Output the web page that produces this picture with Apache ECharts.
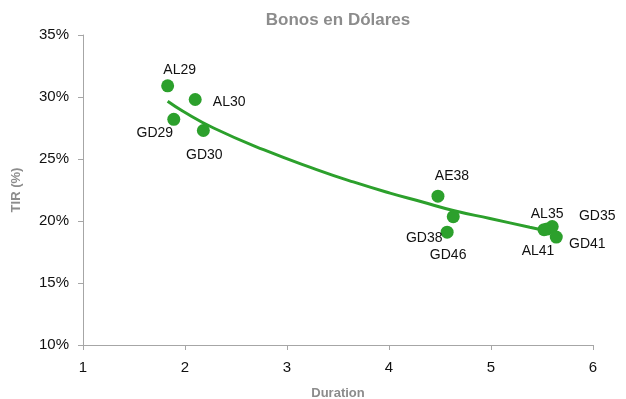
<!DOCTYPE html>
<html>
<head>
<meta charset="utf-8">
<script src="https://cdn.jsdelivr.net/npm/echarts@6/dist/echarts.min.js"></script>
<style>
  html, body { margin: 0; padding: 0; background: #fff; }
  #chart { width: 626px; height: 399px; }
</style>
</head>
<body>
<div id="chart"></div>
<script>
// Bond names, modified duration (years) and yield (TIR, %)
const bonds     = ['AL29', 'AL30', 'GD29', 'GD30', 'AE38', 'GD38', 'GD46', 'AL35', 'GD35', 'AL41', 'GD41'];
const durations = [1.83, 2.10, 1.89, 2.18, 4.48, 4.63, 4.57, 5.55, 5.60, 5.52, 5.64];
const yields    = [30.9, 29.8, 28.2, 27.3, 22.0, 20.35, 19.1, 19.35, 19.55, 19.3, 18.7];

// Trend curve sampled along duration
const trendX = [1.83, 1.98, 2.28, 2.77, 3.29, 3.65, 4.01, 4.32, 4.63, 4.99, 5.38, 5.55];
const trendY = [29.65, 28.85, 27.5, 25.75, 24.15, 23.15, 22.25, 21.55, 20.85, 20.2, 19.5, 19.2];

// Axis ticks
const xTicks = { min: 1, max: 6, step: 1 };
const yTicks = { min: 10, max: 35, step: 5 };

// Label placement around each point (pixel offsets from the marker centre)
const labelOffsets = {
  AL29: [12, -16], AL30: [34, 3], GD29: [-19, 14], GD30: [1, 25],
  AE38: [14, -20], GD38: [-29, 21], GD46: [1, 23], AL35: [0, -15],
  GD35: [45, -10], AL41: [-6, 21], GD41: [31, 7]
};

const green = '#2ca02c';
const font = 'Liberation Sans, Arial, sans-serif';

const scatterData = bonds.map((name, i) => ({
  name: name,
  value: [durations[i], yields[i]],
  label: { offset: labelOffsets[name] }
}));

const chart = echarts.init(document.getElementById('chart'), null, { renderer: 'canvas' });
chart.setOption({
  animation: false,
  title: {
    text: 'Bonos en Dólares',
    left: 333,
    textAlign: 'center',
    top: 7,
    textStyle: { fontFamily: font, fontSize: 17, fontWeight: 'bold', color: '#8c8c8c' }
  },
  grid: { left: 83, right: 33, top: 35, bottom: 54, containLabel: false, outerBoundsMode: 'none' },
  xAxis: {
    type: 'value',
    min: xTicks.min, max: xTicks.max, interval: xTicks.step,
    name: 'Duration',
    nameLocation: 'middle',
    nameGap: 42,
    nameTextStyle: { fontFamily: font, fontSize: 13, fontWeight: 'bold', color: '#8c8c8c' },
    axisLine: { lineStyle: { color: '#a6a6a6', width: 1 } },
    axisTick: { show: true, length: 5, lineStyle: { color: '#a6a6a6' } },
    axisLabel: { fontFamily: font, fontSize: 15, color: '#111', margin: 15 },
    splitLine: { show: false }
  },
  yAxis: {
    type: 'value',
    min: yTicks.min, max: yTicks.max, interval: yTicks.step,
    name: 'TIR (%)',
    nameLocation: 'middle',
    nameGap: 60,
    nameRotate: 90,
    nameTextStyle: { fontFamily: font, fontSize: 13, fontWeight: 'bold', color: '#8c8c8c' },
    axisLine: { show: true, lineStyle: { color: '#a6a6a6', width: 1 } },
    axisTick: { show: true, length: 5, lineStyle: { color: '#a6a6a6' } },
    axisLabel: { fontFamily: font, fontSize: 15, color: '#111', margin: 14, formatter: '{value}%' },
    splitLine: { show: false }
  },
  series: [
    {
      type: 'line',
      data: trendX.map((x, i) => [x, trendY[i]]),
      smooth: true,
      showSymbol: false,
      lineStyle: { color: green, width: 3 },
      z: 2
    },
    {
      type: 'scatter',
      data: scatterData,
      symbolSize: 13,
      itemStyle: { color: green, opacity: 1 },
      label: {
        show: true,
        position: 'inside',
        align: 'center',
        verticalAlign: 'middle',
        formatter: '{b}',
        fontFamily: font,
        fontSize: 14,
        color: '#111'
      },
      z: 3
    }
  ]
});
</script>
</body>
</html>
